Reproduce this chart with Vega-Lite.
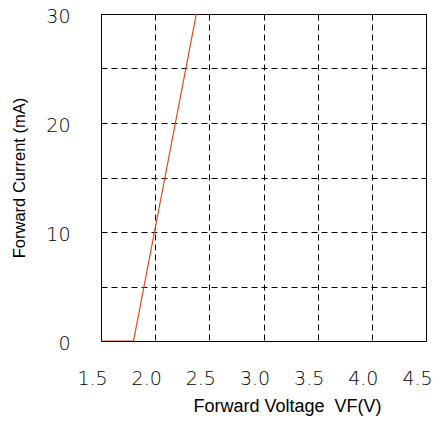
{
  "$schema": "https://vega.github.io/schema/vega-lite/v6.json",
  "width": 325,
  "height": 327,
  "autosize": "none",
  "padding": {"left": 101, "top": 14, "right": 9, "bottom": 82},
  "background": "white",
  "config": {
    "view": {"stroke": "black", "strokeWidth": 1},
    "axis": {
      "gridColor": "black",
      "gridDash": [6, 4],
      "gridWidth": 1,
      "gridOpacity": 1,
      "domain": false,
      "ticks": false,
      "labelFont": "DejaVu Sans",
      "labelFontWeight": 200,
      "labelFontSize": 19,
      "labelColor": "black",
      "titleFont": "Liberation Sans",
      "titleFontWeight": "normal",
      "titleColor": "black"
    }
  },
  "data": {
    "values": [
      {"vf": 1.5, "current": 0},
      {"vf": 1.8, "current": 0},
      {"vf": 2.38, "current": 30}
    ]
  },
  "mark": {"type": "line", "color": "#E04A1E", "strokeWidth": 1.2, "clip": true},
  "encoding": {
    "x": {
      "field": "vf",
      "type": "quantitative",
      "scale": {"domain": [1.5, 4.5], "nice": false, "zero": false},
      "axis": {
        "values": [1.5, 2.0, 2.5, 3.0, 3.5, 4.0, 4.5],
        "format": ".1f",
        "labelPadding": 28,
        "labelOffset": -9,
        "title": "Forward Voltage \u00a0VF(V)",
        "titleFontSize": 18,
        "titlePadding": 9,
        "titleX": 186,
        "labelFlush": false
      }
    },
    "y": {
      "field": "current",
      "type": "quantitative",
      "scale": {"domain": [0, 30], "nice": false},
      "axis": {
        "values": [0, 5, 10, 15, 20, 25, 30],
        "labelExpr": "datum.value % 10 === 0 ? datum.label : ''",
        "labelPadding": 31,
        "labelOffset": 2,
        "title": "Forward Current (mA)",
        "titleFontSize": 16.5,
        "titlePadding": 18,
        "labelFlush": false
      }
    }
  }
}
